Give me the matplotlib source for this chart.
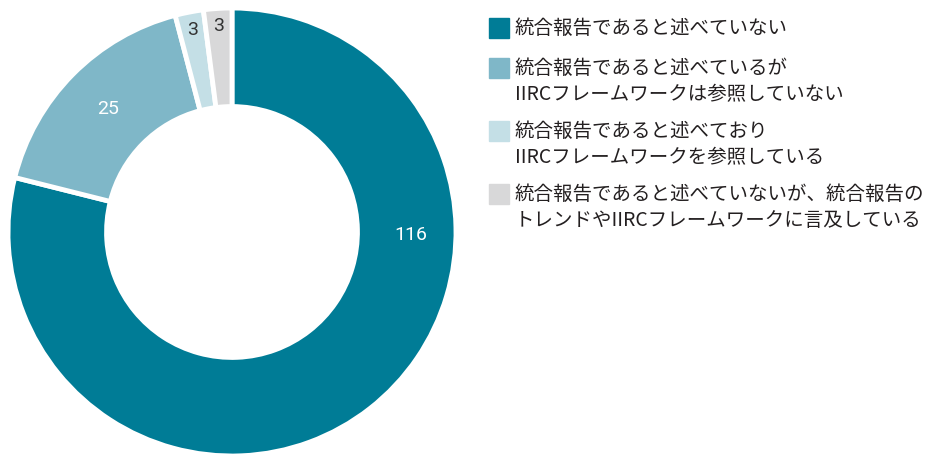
import numpy as np
import matplotlib.pyplot as plt
from matplotlib.patches import Rectangle

plt.rcParams['font.family'] = ['Noto Sans CJK JP', 'DejaVu Sans']

# survey counts per answer
categories = [
    "統合報告であると述べていない",
    "統合報告であると述べているが\nIIRCフレームワークは参照していない",
    "統合報告であると述べており\nIIRCフレームワークを参照している",
    "統合報告であると述べていないが、統合報告の\nトレンドやIIRCフレームワークに言及している",
]
counts = [116, 25, 3, 3]
colors = ["#007c96", "#7fb7c8", "#c4dfe6", "#d8d8d9"]
label_colors = ["white", "white", "#333333", "#333333"]

W, H = 938, 454
fig = plt.figure(figsize=(W / 100, H / 100), dpi=100)

# donut axes, square, centred around (232, 232) px
R = 224
cx, cy = 232, H - 232
ax = fig.add_axes([(cx - R) / W, (cy - R) / H, 2 * R / W, 2 * R / H])

wedges, _ = ax.pie(counts, colors=colors, startangle=90, counterclock=False,
                   radius=1, wedgeprops=dict(width=0.44, edgecolor='white', linewidth=3.5))
ax.set_xlim(-1, 1)
ax.set_ylim(-1, 1)
ax.set_aspect('equal')
ax.axis('off')

# value labels: middle of each wedge, big wedge label placed at the right
label_r = [0.80, 0.78, 0.92, 0.92]
for i, w in enumerate(wedges):
    ang = (w.theta1 + w.theta2) / 2
    if i == 0:
        ang = -1
    x = label_r[i] * np.cos(np.radians(ang))
    y = label_r[i] * np.sin(np.radians(ang))
    ax.text(x, y, str(counts[i]), ha='center', va='center', fontsize=14,
            color=label_colors[i], family=['Roboto', 'DejaVu Sans'])

# legend drawn by hand in pixel positions
legend_y = [28, 68, 131, 194]
line_h = 27
for i, lab in enumerate(categories):
    y0 = legend_y[i]
    fig.patches.append(Rectangle(((489) / W, (H - y0 - 10) / H), 20 / W, 20 / H,
                                 transform=fig.transFigure, color=colors[i]))
    for j, line in enumerate(lab.split("\n")):
        fig.text(515 / W, (H - y0 - j * line_h) / H, line, ha='left', va='center',
                 fontsize=14, color='#231f20')

fig.savefig('out.png', dpi=100)
